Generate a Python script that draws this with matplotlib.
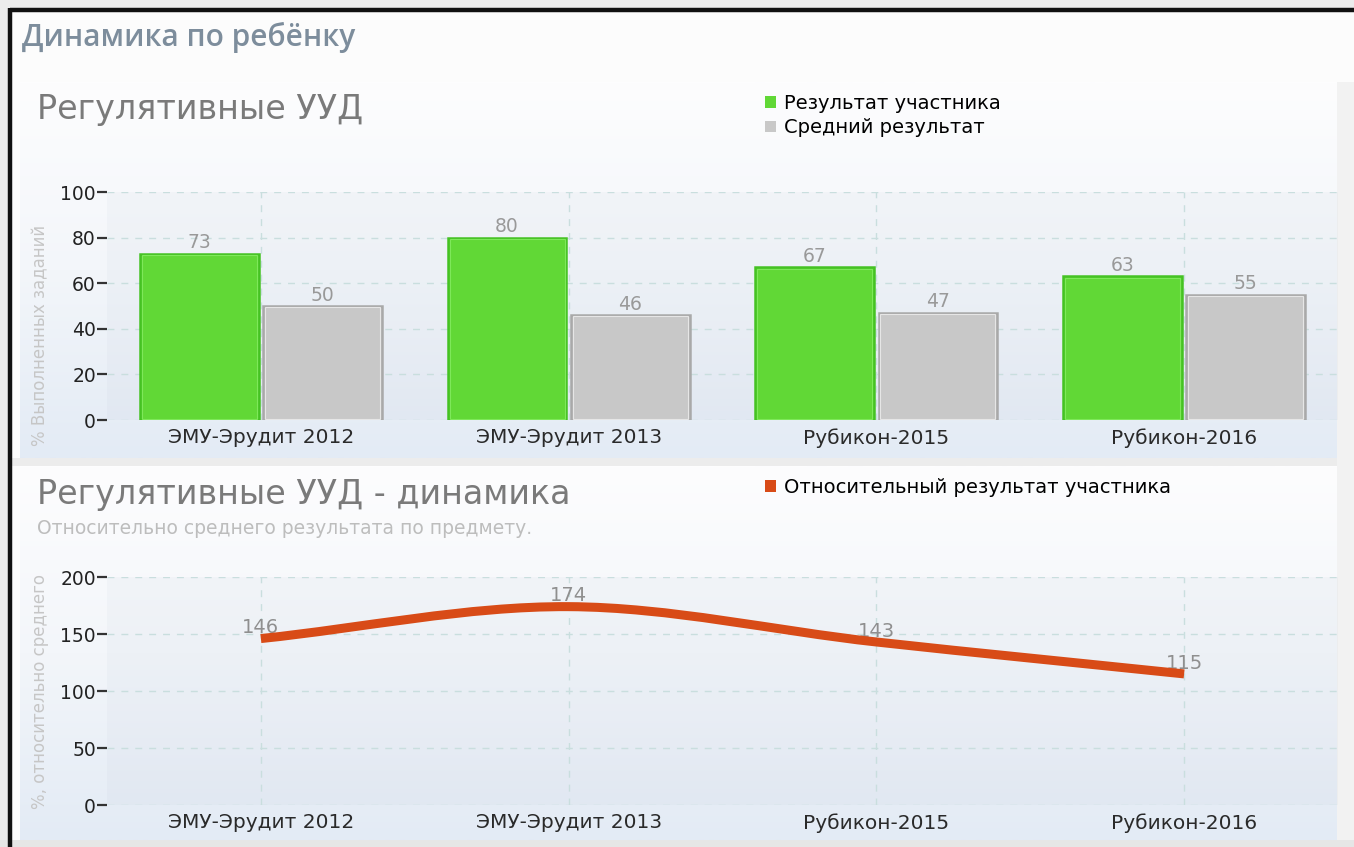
import numpy as np
import matplotlib
matplotlib.use("Agg")
import matplotlib.pyplot as plt
from matplotlib.patches import Rectangle, PathPatch
from matplotlib.path import Path
from matplotlib.colors import LinearSegmentedColormap

# данные
categories = ["ЭМУ-Эрудит 2012", "ЭМУ-Эрудит 2013", "Рубикон-2015", "Рубикон-2016"]
participant = [73, 80, 67, 63]
average = [50, 46, 47, 55]
relative = [146, 174, 143, 115]

W, H = 1354, 847
plt.rcParams['font.family'] = ['DejaVu Sans']

fig = plt.figure(figsize=(W / 100, H / 100), dpi=100)
fig.patch.set_facecolor('#ececec')


def box(x0, y0, x1, y1):
    # pixel box -> figure fraction
    return [x0 / W, 1 - y1 / H, (x1 - x0) / W, (y1 - y0) / H]


# фон и рамки
bg = fig.add_axes([0, 0, 1, 1])
bg.set_xlim(0, W)
bg.set_ylim(H, 0)
bg.axis('off')
bg.add_patch(Rectangle((12, 12), W - 12, 828, color='#fcfcfc', lw=0))
bg.add_patch(Rectangle((1337, 82), W - 1337, H - 82, color='#f2f2f2', lw=0))
bg.add_patch(Rectangle((12, 458), 1325, 8, color='#ececec', lw=0))
bg.add_patch(Rectangle((0, 840), W, 7, color='#e6e6e6', lw=0))
grad = LinearSegmentedColormap.from_list('g', ['#fdfdfe', '#f3f6fa', '#e3ebf5'])
g = np.linspace(0, 1, 256).reshape(-1, 1)
bg.imshow(g, cmap=grad, extent=(20, 1337, 458, 82), aspect='auto', zorder=1)
bg.imshow(g, cmap=grad, extent=(20, 1337, 840, 466), aspect='auto', zorder=1)
bg.plot([10, W], [10, 10], color='#111111', lw=3.2, solid_capstyle='butt', zorder=3)
bg.plot([10, 10], [8, H], color='#111111', lw=3.2, solid_capstyle='butt', zorder=3)
bg.set_xlim(0, W)
bg.set_ylim(H, 0)

fig.text(22 / W, 1 - 37 / H, "Динамика по ребёнку", fontsize=21.5, family='Open Sans',
         weight='semibold', color='#7d8d9c', va='center')

x = np.arange(len(categories))


def style_axes(ax, ymax, step):
    ax.set_facecolor((0.55, 0.6, 0.68, 0.05))
    for s in ax.spines.values():
        s.set_visible(False)
    ax.set_xlim(-0.5, 3.5)
    ax.set_ylim(0, ymax)
    ax.set_yticks(np.arange(0, ymax + 1, step))
    ax.set_xticks(x)
    ax.set_xticklabels(categories)
    ax.tick_params(axis='y', length=7, width=1.6, color='#333333', labelsize=13.5,
                   labelcolor='#222222', pad=1)
    ax.tick_params(axis='x', length=0, labelsize=14.5, labelcolor='#2a2a2a', pad=6)
    ax.grid(True, linestyle=(0, (5, 5)), color='#c9dede', linewidth=1)
    ax.set_axisbelow(True)


# верхний график
ax1 = fig.add_axes(box(107, 192, 1338, 420))
style_axes(ax1, 100, 20)
bw = 0.386
xg = x - bw / 2 - 0.007
xa = x + bw / 2 + 0.007
ax1.bar(xg, participant, width=bw, color='#61d836',
        edgecolor='#45c223', linewidth=1.8, zorder=3)
ax1.bar(xa, average, width=bw, color='#c8c8c8',
        edgecolor='#a9a9a9', linewidth=1.8, zorder=3)
# светлая внутренняя обводка
ax1.bar(xg, np.array(participant) - 1.2, width=bw - 0.012, bottom=0.6, fill=False,
        edgecolor='#7ee85a', linewidth=0.8, zorder=3)
ax1.bar(xa, np.array(average) - 1.2, width=bw - 0.012, bottom=0.6, fill=False,
        edgecolor='#e6e6e6', linewidth=0.8, zorder=3)
for xi, v in zip(xg, participant):
    ax1.annotate(str(v), (xi, v), xytext=(0, 1), textcoords='offset points',
                 ha='center', va='bottom', fontsize=13.5, color='#999999')
for xi, v in zip(xa, average):
    ax1.annotate(str(v), (xi, v), xytext=(0, 1), textcoords='offset points',
                 ha='center', va='bottom', fontsize=13.5, color='#999999')
ax1.set_ylabel('% Выполненных заданий', fontsize=12, color='#c6c6c6')
ax1.yaxis.set_label_coords(-0.047, 0.37)
h1 = Rectangle((0, 0), 1, 1, facecolor='#61d836', edgecolor='none')
h2 = Rectangle((0, 0), 1, 1, facecolor='#c8c8c8', edgecolor='none')
ax1.legend(handles=[h1, h2], labels=['Результат участника', 'Средний результат'],
           loc='upper left', bbox_to_anchor=(765 / W, 1 - 94 / H),
           bbox_transform=fig.transFigure, frameon=False, fontsize=14,
           handlelength=0.55, handleheight=0.55, handletextpad=0.45, labelspacing=0.27,
           borderpad=0, borderaxespad=0)

fig.text(37 / W, 1 - 110 / H, "Регулятивные УУД", fontsize=24, color='#7a7a7a', va='center')

# нижний график
ax2 = fig.add_axes(box(107, 577, 1338, 805))
style_axes(ax2, 200, 50)

# сглаженная линия (кубические кривые Безье через точки)
ys = np.array(relative, dtype=float)
m = np.zeros_like(ys)
m[1:-1] = (ys[2:] - ys[:-2]) / 2
m[0] = ys[1] - ys[0]
m[-1] = ys[-1] - ys[-2]
verts = [(x[0], ys[0])]
codes = [Path.MOVETO]
for i in range(len(ys) - 1):
    verts += [(x[i] + 1 / 3, ys[i] + m[i] / 3),
              (x[i + 1] - 1 / 3, ys[i + 1] - m[i + 1] / 3),
              (x[i + 1], ys[i + 1])]
    codes += [Path.CURVE4] * 3
line = PathPatch(Path(verts, codes), facecolor='none', edgecolor='#d84b17',
                 lw=6.5, capstyle='butt', zorder=4)
ax2.add_patch(line)
for xi, v in zip(x, relative):
    ax2.annotate(str(v), (xi, v), xytext=(0, 1), textcoords='offset points',
                 ha='center', va='bottom', fontsize=14, color='#8f8f8f', zorder=3)
ax2.set_ylabel('%, относительно среднего', fontsize=12, color='#c6c6c6')
ax2.yaxis.set_label_coords(-0.047, 0.5)
h3 = Rectangle((0, 0), 1, 1, facecolor='#d84b17', edgecolor='none')
ax2.legend(handles=[h3], labels=['Относительный результат участника'],
           loc='upper left', bbox_to_anchor=(765 / W, 1 - 478 / H),
           bbox_transform=fig.transFigure, frameon=False, fontsize=14,
           handlelength=0.55, handleheight=0.55, handletextpad=0.45,
           borderpad=0, borderaxespad=0)

fig.text(37 / W, 1 - 494 / H, "Регулятивные УУД - динамика", fontsize=24,
         color='#7a7a7a', va='center')
fig.text(37 / W, 1 - 528 / H, "Относительно среднего результата по предмету.",
         fontsize=13.5, color='#bdbdbd', va='center')

fig.savefig('out.png', dpi=100, facecolor=fig.get_facecolor())
